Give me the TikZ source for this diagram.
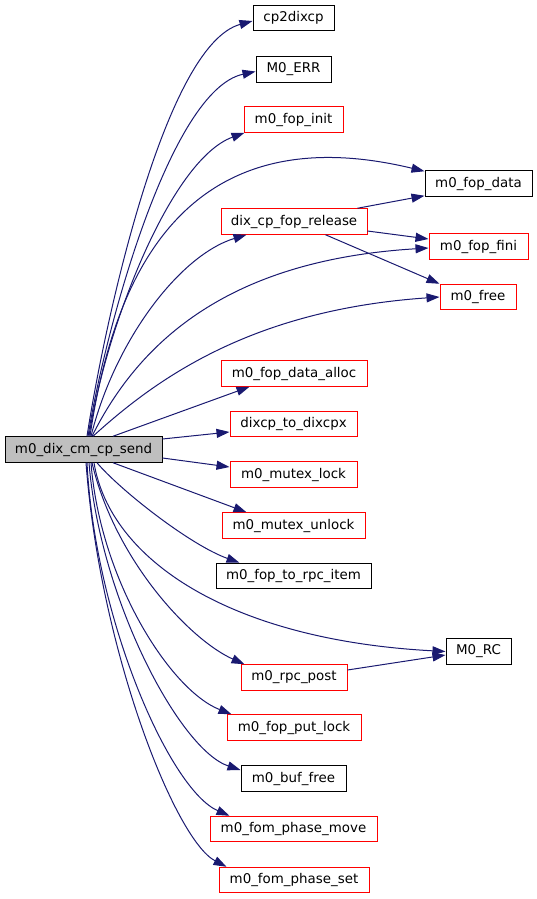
\documentclass[tikz,border=0pt]{standalone}
\usepackage{fontspec}
\setmainfont{DejaVu Sans}
\usetikzlibrary{arrows.meta}
\definecolor{edgeblue}{HTML}{191970}
\definecolor{boxgray}{HTML}{BFBFBF}
\tikzset{
  fn/.style={draw=black, line width=1pt, minimum height=25.5pt, inner sep=0pt,
    font=\fontsize{13.4}{16}\selectfont, fill=white},
  fnred/.style={fn, draw=red},
  fnmain/.style={fn, fill=boxgray},
  call/.style={draw=edgeblue, line width=1pt, -{Triangle[length=13pt,width=9pt]}, fill=none},
}
\begin{document}
\begin{tikzpicture}[x=1pt,y=-1pt]
\useasboundingbox (0,0) rectangle (537,899);
\node[fnmain, minimum width=157pt] (main) at (83.5,449.5) {m0\_dix\_cm\_cp\_send};
\node[fn, minimum width=81pt] (cp) at (293.5,18) {cp2dixcp};
\node[fn, minimum width=75pt] (err) at (293.5,69.5) {M0\_ERR};
\node[fnred, minimum width=99pt] (init) at (293.5,119.5) {m0\_fop\_init};
\node[fn, minimum width=107pt] (data) at (478.5,183.5) {m0\_fop\_data};
\node[fnred, minimum width=146pt] (rel) at (294,221.5) {dix\_cp\_fop\_release};
\node[fnred, minimum width=99pt] (fini) at (478.5,246.5) {m0\_fop\_fini};
\node[fnred, minimum width=76pt] (free) at (478,297) {m0\_free};
\node[fnred, minimum width=146pt] (alloc) at (294,373.5) {m0\_fop\_data\_alloc};
\node[fnred, minimum width=127pt] (dixcpx) at (293.5,424) {dixcp\_to\_dixcpx};
\node[fnred, minimum width=127pt] (lock) at (293.5,474.5) {m0\_mutex\_lock};
\node[fnred, minimum width=143pt] (unlock) at (293.5,525.5) {m0\_mutex\_unlock};
\node[fn, minimum width=155pt] (rpcitem) at (293.5,576) {m0\_fop\_to\_rpc\_item};
\node[fn, minimum width=65pt] (rc) at (478.5,651.5) {M0\_RC};
\node[fnred, minimum width=106pt] (post) at (294,677.5) {m0\_rpc\_post};
\node[fnred, minimum width=134pt] (putlock) at (294,727.5) {m0\_fop\_put\_lock};
\node[fn, minimum width=105pt] (buf) at (293.5,778.5) {m0\_buf\_free};
\node[fnred, minimum width=167pt] (move) at (293.5,829) {m0\_fom\_phase\_move};
\node[fnred, minimum width=150pt] (set) at (294,880) {m0\_fom\_phase\_set};

% upward calls
\draw[call] ([xshift=3.5pt]main.north) .. controls (105,320) and (165,45) .. ([yshift=-3pt]cp.west);
\draw[call] ([xshift=4.5pt]main.north) .. controls (105,330) and (170,90) .. ([yshift=-2pt]err.west);
\draw[call] ([xshift=5.5pt]main.north) .. controls (105,330) and (170,160) .. ([xshift=1pt]init.south west);
\draw[call] ([xshift=6.5pt]main.north) .. controls (110,300) and (170,110) .. ([yshift=-1pt]data.north west);
\draw[call] ([xshift=7.5pt]main.north) .. controls (115,340) and (180,255) .. ([xshift=26pt]rel.south west);
\draw[call] ([xshift=8.5pt]main.north) .. controls (140,340) and (230,260) .. ([yshift=-1.5pt]fini.west);
\draw[call] ([xshift=9.5pt]main.north) .. controls (155,380) and (250,310) .. (free.west);
\draw[call] ([xshift=29.5pt]main.north) -- ([xshift=29pt]alloc.south west);
% sideways calls
\draw[call] ([yshift=10.5pt]main.east) -- ([yshift=-8pt]dixcpx.west);
\draw[call] ([yshift=-8.5pt]main.east) -- ([yshift=7.5pt]lock.west);
% downward calls
\draw[call] ([xshift=29.5pt]main.south) -- ([xshift=25pt]unlock.north west);
\draw[call] ([xshift=13.5pt]main.south) .. controls (120,490) and (190,545) .. ([xshift=24pt]rpcitem.north west);
\draw[call] ([xshift=10.5pt]main.south) .. controls (110,560) and (230,640) .. (rc.west);
\draw[call] ([xshift=8.5pt]main.south) .. controls (115,560) and (190,640) .. ([xshift=4pt]post.north west);
\draw[call] ([xshift=7.5pt]main.south) .. controls (100,580) and (170,690) .. ([xshift=5pt]putlock.north west);
\draw[call] ([xshift=5.5pt]main.south) .. controls (100,600) and (180,750) .. ([yshift=8.5pt]buf.west);
\draw[call] ([xshift=3.5pt]main.south) .. controls (95,620) and (170,790) .. ([xshift=20pt]move.north west);
\draw[call] ([xshift=2.5pt]main.south) .. controls (100,650) and (175,840) .. ([xshift=8pt]set.north west);
% second-level calls
\draw[call] ([xshift=-10pt]rel.north east) -- ([yshift=1pt]data.south west);
\draw[call] ([yshift=-9.5pt]rel.east) -- ([yshift=7.5pt]fini.west);
\draw[call] ([xshift=-42pt]rel.south east) -- (free.north west);
\draw[call] ([yshift=7.5pt]post.east) -- ([yshift=-3.5pt]rc.west);
\end{tikzpicture}
\end{document}
